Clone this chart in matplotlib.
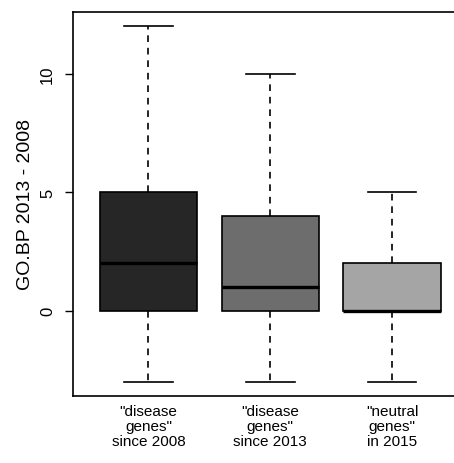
import matplotlib
matplotlib.use("Agg")
import matplotlib.pyplot as plt

plt.rcParams['font.family'] = ['Liberation Sans', 'DejaVu Sans']

# box statistics
groups = ['"disease\ngenes"\nsince 2008', '"disease\ngenes"\nsince 2013', '"neutral\ngenes"\nin 2015']
whislo = [-3, -3, -3]
q1 = [0, 0, 0]
med = [2, 1, 0]
q3 = [5, 4, 2]
whishi = [12, 10, 5]
colors = ['#262626', '#6d6d6d', '#a5a5a5']

fig = plt.figure(figsize=(4.54, 4.64), dpi=100)
ax = fig.add_axes([0.1608, 0.1444, 0.869, 0.8276])

stats = []
for i in range(len(groups)):
    stats.append({'whislo': whislo[i], 'q1': q1[i], 'med': med[i],
                  'q3': q3[i], 'whishi': whishi[i], 'fliers': [], 'label': ''})

bp = ax.bxp(stats, positions=[1, 2, 3], widths=0.8, patch_artist=True,
            showfliers=False,
            boxprops=dict(linewidth=1.2, edgecolor='black'),
            medianprops=dict(color='black', linewidth=2.4, solid_capstyle='butt'),
            whiskerprops=dict(color='black', linewidth=1.2, linestyle=(0, (4, 3.5))),
            capprops=dict(color='black', linewidth=1.2),
            capwidths=0.4)
for patch, c in zip(bp['boxes'], colors):
    patch.set_facecolor(c)

ax.set_xlim(0.38, 3.62)
ax.set_ylim(-3.6, 12.6)
ax.set_xticks([])
ax.set_yticks([0, 5, 10])
ax.set_yticklabels(['0', '5', '10'], rotation=90, va='center', fontsize=12)
ax.tick_params(axis='y', length=6, width=1.0, pad=7)
for s in ax.spines.values():
    s.set_linewidth(1.2)

ax.set_ylabel('GO.BP 2013 - 2008', fontsize=14, labelpad=4)

for i, g in enumerate(groups):
    ax.text(i + 1, -0.022, g, transform=ax.get_xaxis_transform(), ha='center',
            va='top', fontsize=11, linespacing=1.08)

fig.savefig('out.png', dpi=100)
